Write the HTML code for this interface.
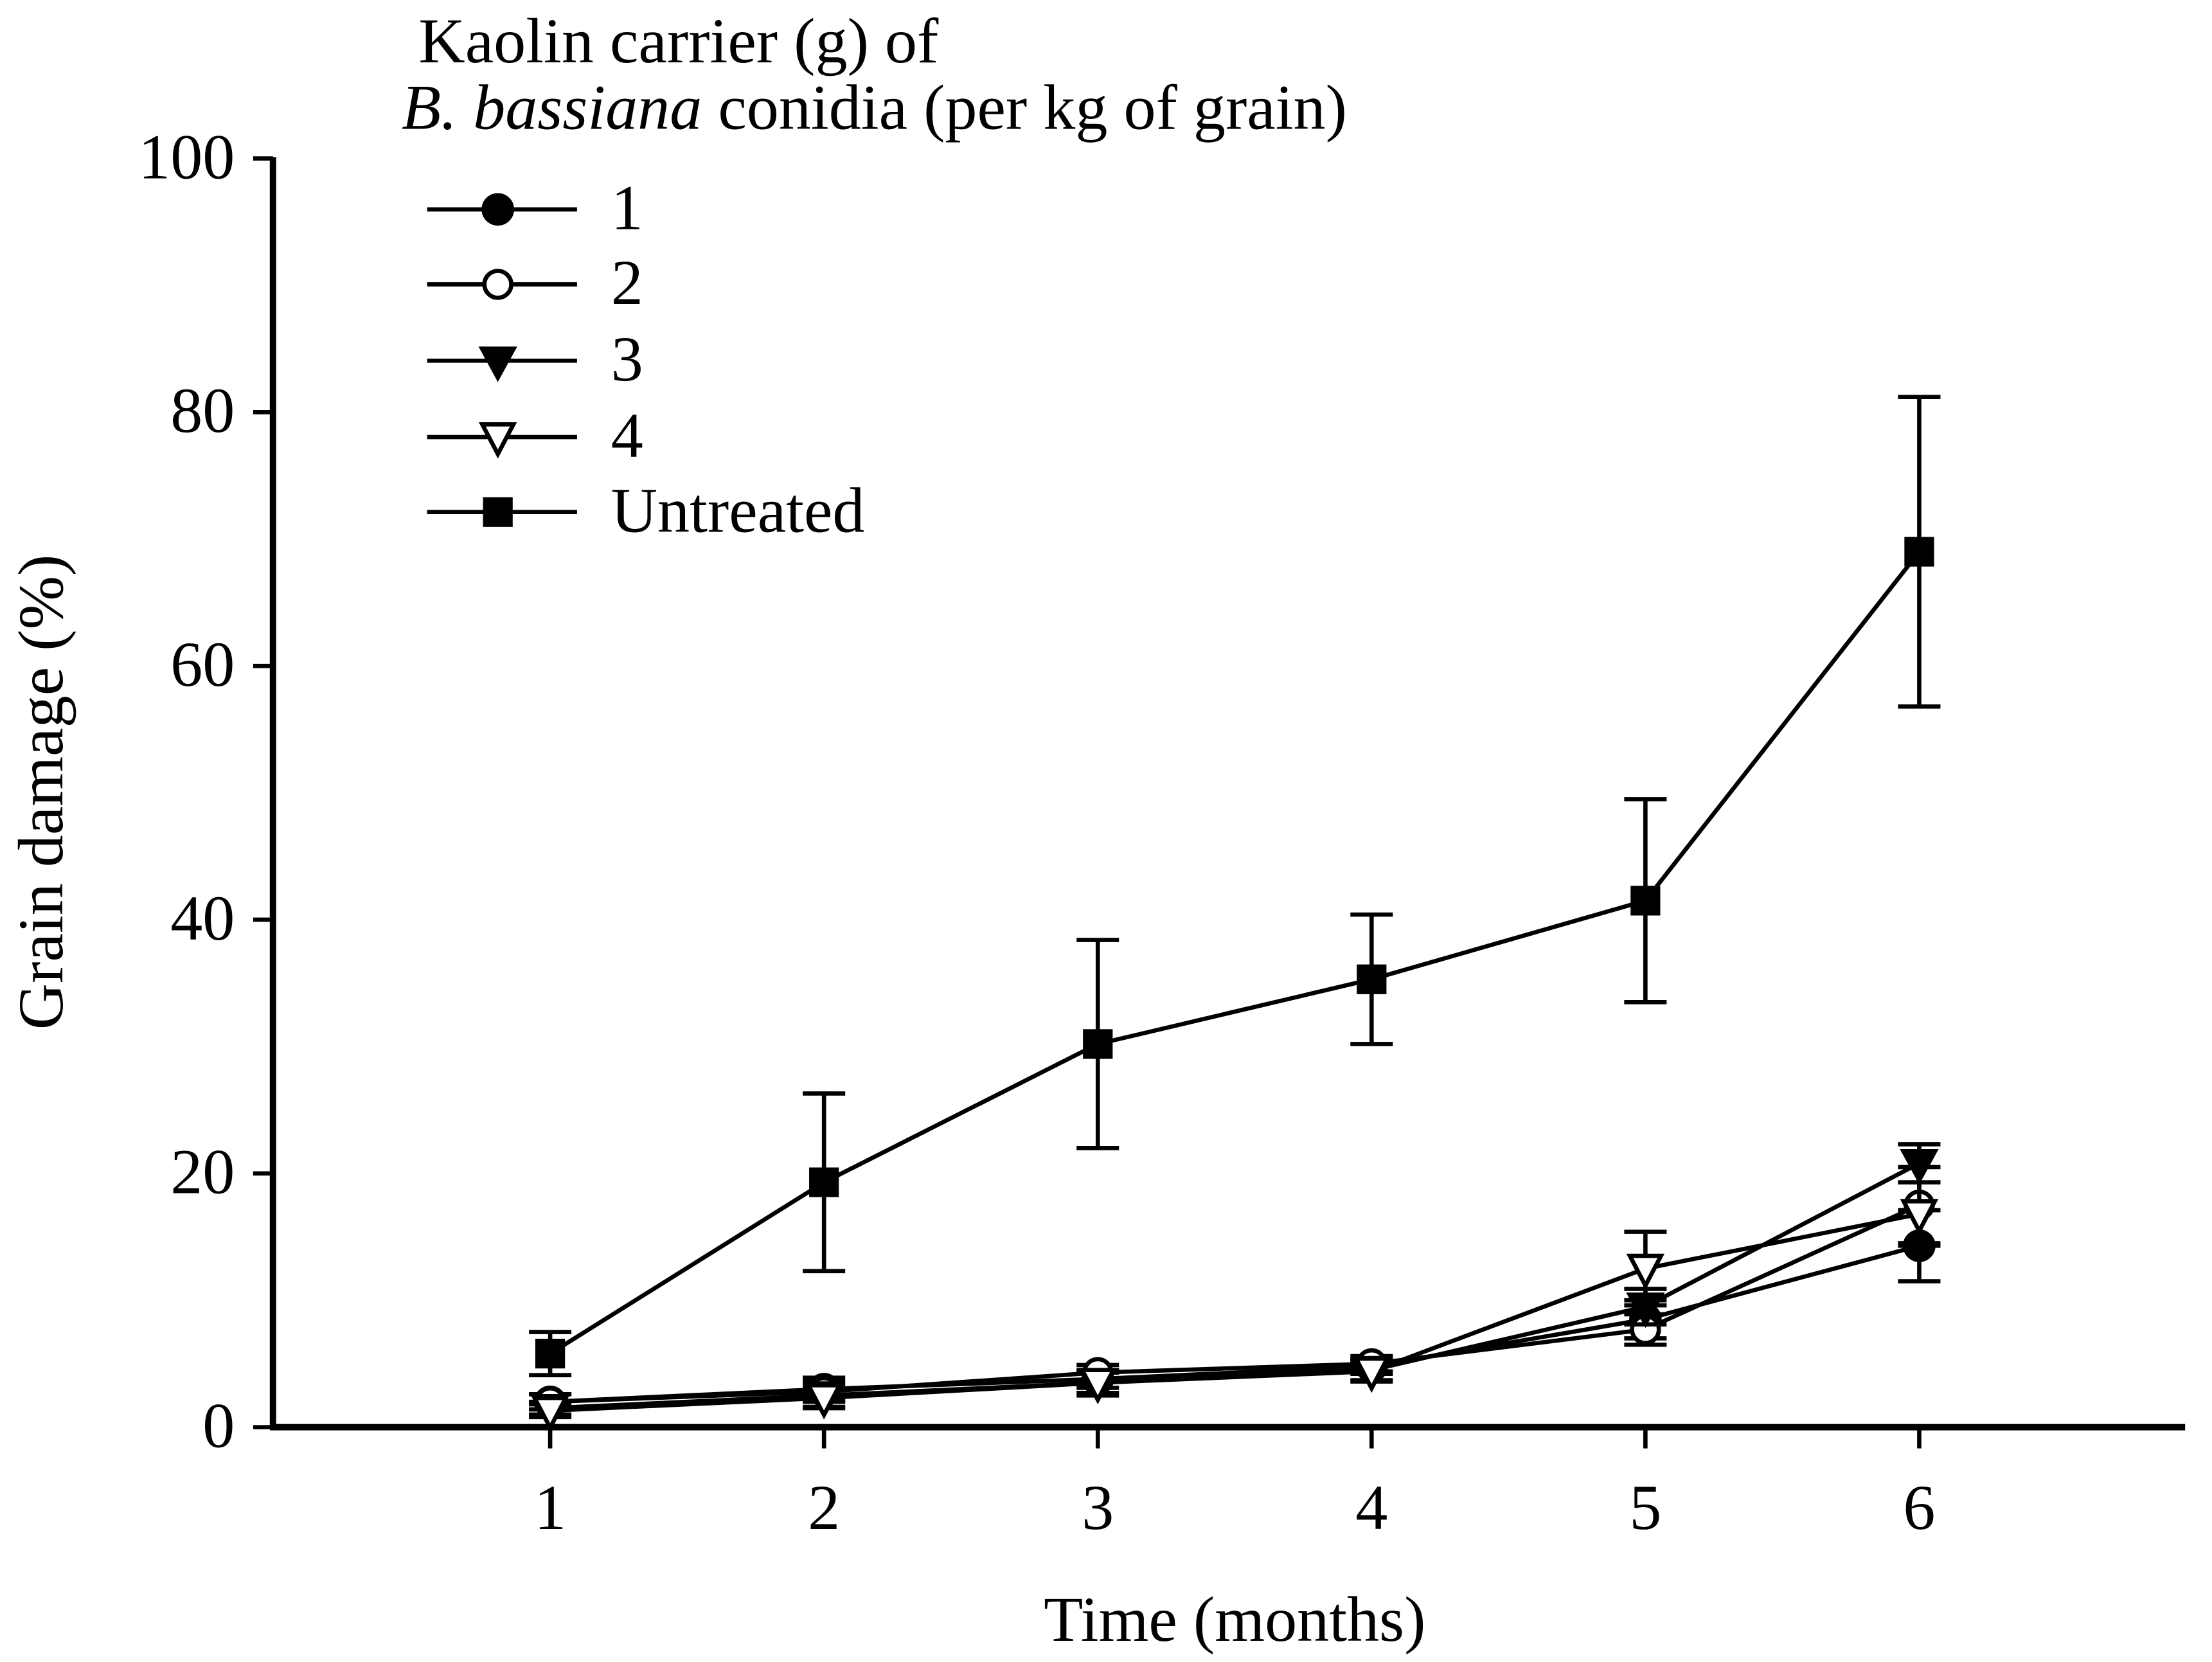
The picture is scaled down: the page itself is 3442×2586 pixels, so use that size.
<!DOCTYPE html>
<html><head><meta charset="utf-8"><style>
html,body{margin:0;padding:0;background:#fff}
svg{display:block}
text{font-family:"Liberation Serif",serif;fill:#000}
</style></head><body>
<svg id="chart" width="3442" height="2586" viewBox="0 0 1564 1175" xmlns="http://www.w3.org/2000/svg">
<g id="axes"></g>
<g id="series"></g>
<g id="legend"></g>
</svg>
<script>
const months = [1,2,3,4,5,6];
const yTicks = [0,20,40,60,80,100];
const seriesNames = ["1","2","3","4","Untreated"];
const s1 = [2.0,3.0,3.8,4.8,8.5,14.3];
const s1err = [0.6,0.9,0.7,0.6,1.5,2.8];
const s2 = [2.0,2.8,4.3,5.0,7.7,17.5];
const s2err = [0.6,0.8,0.6,0.6,1.2,3.0];
const s3 = [1.5,2.5,3.5,4.5,9.5,20.8];
const s3err = [0.5,0.9,0.8,0.8,1.4,1.5];
const s4 = [1.3,2.3,3.5,4.4,12.5,16.8];
const s4err = [0.5,0.8,1.0,0.8,2.9,2.5];
const sU = [5.8,19.3,30.2,35.3,41.5,69.0];
const sUerr = [1.7,7.0,8.2,5.1,8.0,12.2];

const NS="http://www.w3.org/2000/svg";
const X0=193, XE=1545, Y0=1009, Y100=112;
const FS=45.5;
const xs = m => 389 + (m-1)*193.6;
const ys = v => Y0 - v*(Y0-Y100)/100;
function mk(tag, attrs, parent){const e=document.createElementNS(NS,tag);for(const k in attrs)e.setAttribute(k,attrs[k]);parent.appendChild(e);return e;}
const axes=document.getElementById('axes'), ser=document.getElementById('series'), leg=document.getElementById('legend');

let e=mk('line',{x1:X0,y1:Y100-1,x2:X0,y2:Y0+2,stroke:'#000','stroke-width':4.5},axes);


e=mk('line',{x1:X0-2,y1:Y0,x2:XE,y2:Y0,stroke:'#000','stroke-width':4.5},axes);


yTicks.forEach(v=>{
  let t=mk('line',{x1:X0-14,y1:ys(v),x2:X0,y2:ys(v),stroke:'#000','stroke-width':3},axes);
  
  
  let l=mk('text',{x:X0-27,y:ys(v)+14,'text-anchor':'end','font-size':FS},axes);l.textContent=v;
  
  
});
months.forEach(m=>{
  let t=mk('line',{x1:xs(m),y1:Y0,x2:xs(m),y2:Y0+15,stroke:'#000','stroke-width':3},axes);
  
  
  let l=mk('text',{x:xs(m),y:1081,'text-anchor':'middle','font-size':FS},axes);l.textContent=m;
  
  
});
e=mk('text',{x:873,y:1160,'text-anchor':'middle','font-size':FS},axes);e.textContent='Time (months)';


e=mk('text',{x:0,y:0,'text-anchor':'middle','font-size':FS,transform:'translate(44,560) rotate(-90)'},axes);e.textContent='Grain damage (%)';



function marker(kind,x,y,p){
  const r=10.5;
  if(kind==='fc') return mk('circle',{cx:x,cy:y,r:r,fill:'#000',stroke:'#000','stroke-width':2},p);
  if(kind==='oc') return mk('circle',{cx:x,cy:y,r:r-1,fill:'#fff',stroke:'#000','stroke-width':3},p);
  if(kind==='ft') return mk('polygon',{points:`${x-12},${y-9} ${x+12},${y-9} ${x},${y+13}`,fill:'#000',stroke:'#000','stroke-width':2},p);
  if(kind==='ot') return mk('polygon',{points:`${x-11},${y-9} ${x+11},${y-9} ${x},${y+12}`,fill:'#fff',stroke:'#000','stroke-width':3},p);
  return mk('rect',{x:x-10.5,y:y-10.5,width:21,height:21,fill:'#000'},p);
}
const all=[[s1,s1err,'fc'],[s2,s2err,'oc'],[s3,s3err,'ft'],[s4,s4err,'ot'],[sU,sUerr,'sq']];
all.forEach((s,i)=>{
  const g=mk('g',{},ser);
  
  
  const [vals,errs,kind]=s;
  let pl=mk('polyline',{points:vals.map((v,j)=>xs(months[j])+','+ys(v)).join(' '),fill:'none',stroke:'#000','stroke-width':3},g);
  
  
  vals.forEach((v,j)=>{
    const x=xs(months[j]);
    const eb=mk('path',{d:`M${x},${ys(v+errs[j])}V${ys(v-errs[j])}M${x-15},${ys(v+errs[j])}H${x+15}M${x-15},${ys(v-errs[j])}H${x+15}`,stroke:'#000','stroke-width':3,fill:'none'},g);
    
    
    const m=marker(kind,x,ys(v),g);
    
    
  });
});

e=mk('text',{x:296,y:44,'font-size':FS},leg);e.textContent='Kaolin carrier (g) of';


e=mk('text',{x:284,y:91,'font-size':FS},leg);
e.innerHTML='<tspan font-style="italic">B. bassiana</tspan> conidia (per kg of grain)';


const legY=[148,201,255,309,362];
all.forEach((s,i)=>{
  const g=mk('g',{},leg);
  
  
  mk('line',{x1:302,y1:legY[i],x2:408,y2:legY[i],stroke:'#000','stroke-width':3},g);
  marker(s[2],352,legY[i],g);
  const t=mk('text',{x:432,y:legY[i]+14,'font-size':FS},g);t.textContent=seriesNames[i];
});
</script>
</body></html>
